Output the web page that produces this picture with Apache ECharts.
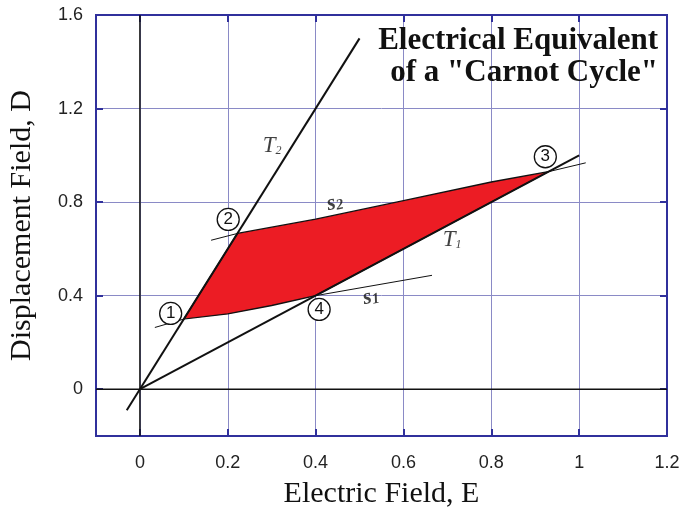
<!DOCTYPE html>
<html>
<head>
<meta charset="utf-8">
<script src="https://cdn.jsdelivr.net/npm/echarts@6/dist/echarts.min.js"></script>
<style>html,body{margin:0;padding:0;background:#fff;}#c{width:682px;height:510px;}</style>
</head>
<body>
<div id="c"></div>
<script>
// ---- data ----
const xTicks = [0, 0.2, 0.4, 0.6, 0.8, 1, 1.2];
const yTicks = [0, 0.4, 0.8, 1.2, 1.6];
// isotherms
const t1E = [0, 1.0], t1D = [0, 1.0];
const t2E = [-0.03, 0.5], t2D = [-0.09, 1.5];
// adiabat s2 (from point 2 to point 3)
const s2E = [0.222, 0.4, 0.6, 0.8, 0.93];
const s2D = [0.666, 0.727, 0.806, 0.886, 0.93];
// adiabat s1 (from point 1 to point 4)
const s1E = [0.1, 0.2, 0.3, 0.4];
const s1D = [0.3, 0.322, 0.358, 0.4];
// short tangent extensions
const tan1E = [0.034, 0.1], tan1D = [0.264, 0.3];
const tan2E = [0.162, 0.222], tan2D = [0.637, 0.666];
const tan3E = [0.93, 1.015], tan3D = [0.93, 0.968];
const tan4E = [0.4, 0.665], tan4D = [0.4, 0.487];
// circled state numbers
const numLabels = ['1', '2', '3', '4'];
const numE = [0.07, 0.201, 0.923, 0.408];
const numD = [0.324, 0.726, 0.994, 0.341];
// curve labels
const curveNames = ['T2', 'T1', 's2', 's1'];
const curveE = [0.301, 0.711, 0.444, 0.526];
const curveD = [1.04, 0.637, 0.796, 0.394];

// ---- helpers ----
const pairs = (xs, ys) => xs.map((x, i) => [x, ys[i]]);
const BLUE = '#30309c';
const GRIDC = '#8a8ac6';
const polyPts = pairs(s2E, s2D).concat(pairs(s1E, s1D).reverse());

function lineSeries(xs, ys, w) {
  return {
    type: 'line', data: pairs(xs, ys), symbol: 'none', silent: true,
    lineStyle: { color: '#111', width: w }, z: 5, animation: false
  };
}

const chart = echarts.init(document.getElementById('c'), null, { renderer: 'canvas' });
const axisCommon = {
  type: 'value',
  axisLine: { show: true, onZero: false, lineStyle: { color: BLUE, width: 2 } },
  axisTick: { show: true, inside: true, length: 7, lineStyle: { color: BLUE, width: 2 } },
};
const tickFont = { fontFamily: '"Liberation Sans", Arial, sans-serif', fontSize: 18, color: '#222' };
const nameFont = { fontFamily: '"Liberation Serif", serif', fontSize: 30, color: '#111' };
chart.setOption({
  animation: false,
  backgroundColor: '#ffffff',
  grid: { left: 96, right: 15, top: 15, bottom: 74, show: true, borderColor: BLUE, borderWidth: 2,
    containLabel: false, outerBoundsMode: 'none' },
  graphic: [{
    type: 'text', right: 24, top: 25, z: 20,
    style: {
      text: 'Electrical Equivalent\nof a "Carnot Cycle"',
      textAlign: 'right',
      font: 'bold 31px "Liberation Serif", "Times New Roman", serif',
      lineHeight: 32, fill: '#111'
    }
  }],
  xAxis: [
    Object.assign({}, axisCommon, {
      min: -0.1, max: 1.2, position: 'bottom',
      name: 'Electric Field, E', nameLocation: 'middle', nameGap: 43,
      nameTextStyle: nameFont,
      axisTick: Object.assign({}, axisCommon.axisTick, { customValues: xTicks }),
      axisLabel: Object.assign({ customValues: xTicks, margin: 18,
        formatter: v => String(Math.round(v * 10) / 10) }, tickFont),
      splitLine: { show: true, lineStyle: { color: GRIDC, width: 1 } }
    }),
    Object.assign({}, axisCommon, {
      min: -0.1, max: 1.2, position: 'top',
      axisTick: Object.assign({}, axisCommon.axisTick, { customValues: xTicks }),
      axisLabel: { show: false }, splitLine: { show: false }
    })
  ],
  yAxis: [
    Object.assign({}, axisCommon, {
      min: -0.2, max: 1.6, position: 'left',
      name: 'Displacement Field, D', nameLocation: 'middle', nameGap: 59,
      nameTextStyle: nameFont,
      axisTick: Object.assign({}, axisCommon.axisTick, { customValues: yTicks }),
      axisLabel: Object.assign({ customValues: yTicks, margin: 13,
        formatter: v => String(Math.round(v * 10) / 10) }, tickFont),
      splitLine: { show: true, lineStyle: { color: GRIDC, width: 1 } }
    }),
    Object.assign({}, axisCommon, {
      min: -0.2, max: 1.6, position: 'right',
      axisTick: Object.assign({}, axisCommon.axisTick, { customValues: yTicks }),
      axisLabel: { show: false }, splitLine: { show: false }
    })
  ],
  series: [
    // zero lines
    lineSeries([-0.1, 1.2], [0, 0], 1.5),
    lineSeries([0, 0], [-0.2, 1.6], 1.5),
    // cycle area
    {
      type: 'custom', z: 3, silent: true,
      data: [polyPts[0]],
      renderItem: function (params, api) {
        const pts = polyPts.map(p => api.coord(p));
        return { type: 'polygon', shape: { points: pts },
          style: { fill: '#ec1c24', stroke: '#111', lineWidth: 1.3 } };
      }
    },
    lineSeries(t1E, t1D, 2),
    lineSeries(t2E, t2D, 2),
    lineSeries(tan1E, tan1D, 1),
    lineSeries(tan2E, tan2D, 1),
    lineSeries(tan3E, tan3D, 1),
    lineSeries(tan4E, tan4D, 1),
    {
      type: 'scatter', z: 8, silent: true,
      data: numE.map((e, i) => ({ value: [e, numD[i]], name: numLabels[i] })),
      symbol: 'circle', symbolSize: 22,
      itemStyle: { color: '#ffffff', borderColor: '#111', borderWidth: 1.3, opacity: 1 },
      label: { show: true, position: 'inside', formatter: p => p.name,
        fontFamily: '"Liberation Sans", Arial, sans-serif', fontSize: 17, color: '#111' }
    },
    {
      type: 'scatter', z: 9, silent: true, symbolSize: 0,
      data: curveE.map((e, i) => ({ value: [e, curveD[i]], name: curveNames[i],
        label: { rotate: curveNames[i][0] === 's' ? 12 : 0 } })),
      label: {
        show: true, position: 'inside',
        formatter: p => p.name[0] === 'T' ? '{t|T}{sub|' + p.name[1] + '}' : '{s|s}{ss|' + p.name[1] + '}',
        rich: {
          t: { fontFamily: '"Liberation Serif", serif', fontStyle: 'italic', fontSize: 23, color: '#111' },
          sub: { fontFamily: '"Liberation Serif", serif', fontStyle: 'italic', fontSize: 12, color: '#111', padding: [10, 0, 0, 0] },
          s: { fontFamily: '"Liberation Serif", serif', fontStyle: 'italic', fontWeight: 'bold', fontSize: 22, color: '#111' },
          ss: { fontFamily: '"Liberation Serif", serif', fontStyle: 'italic', fontWeight: 'bold', fontSize: 15, color: '#111', padding: [6, 0, 0, 0] }
        }
      }
    }
  ]
});
</script>
</body>
</html>
